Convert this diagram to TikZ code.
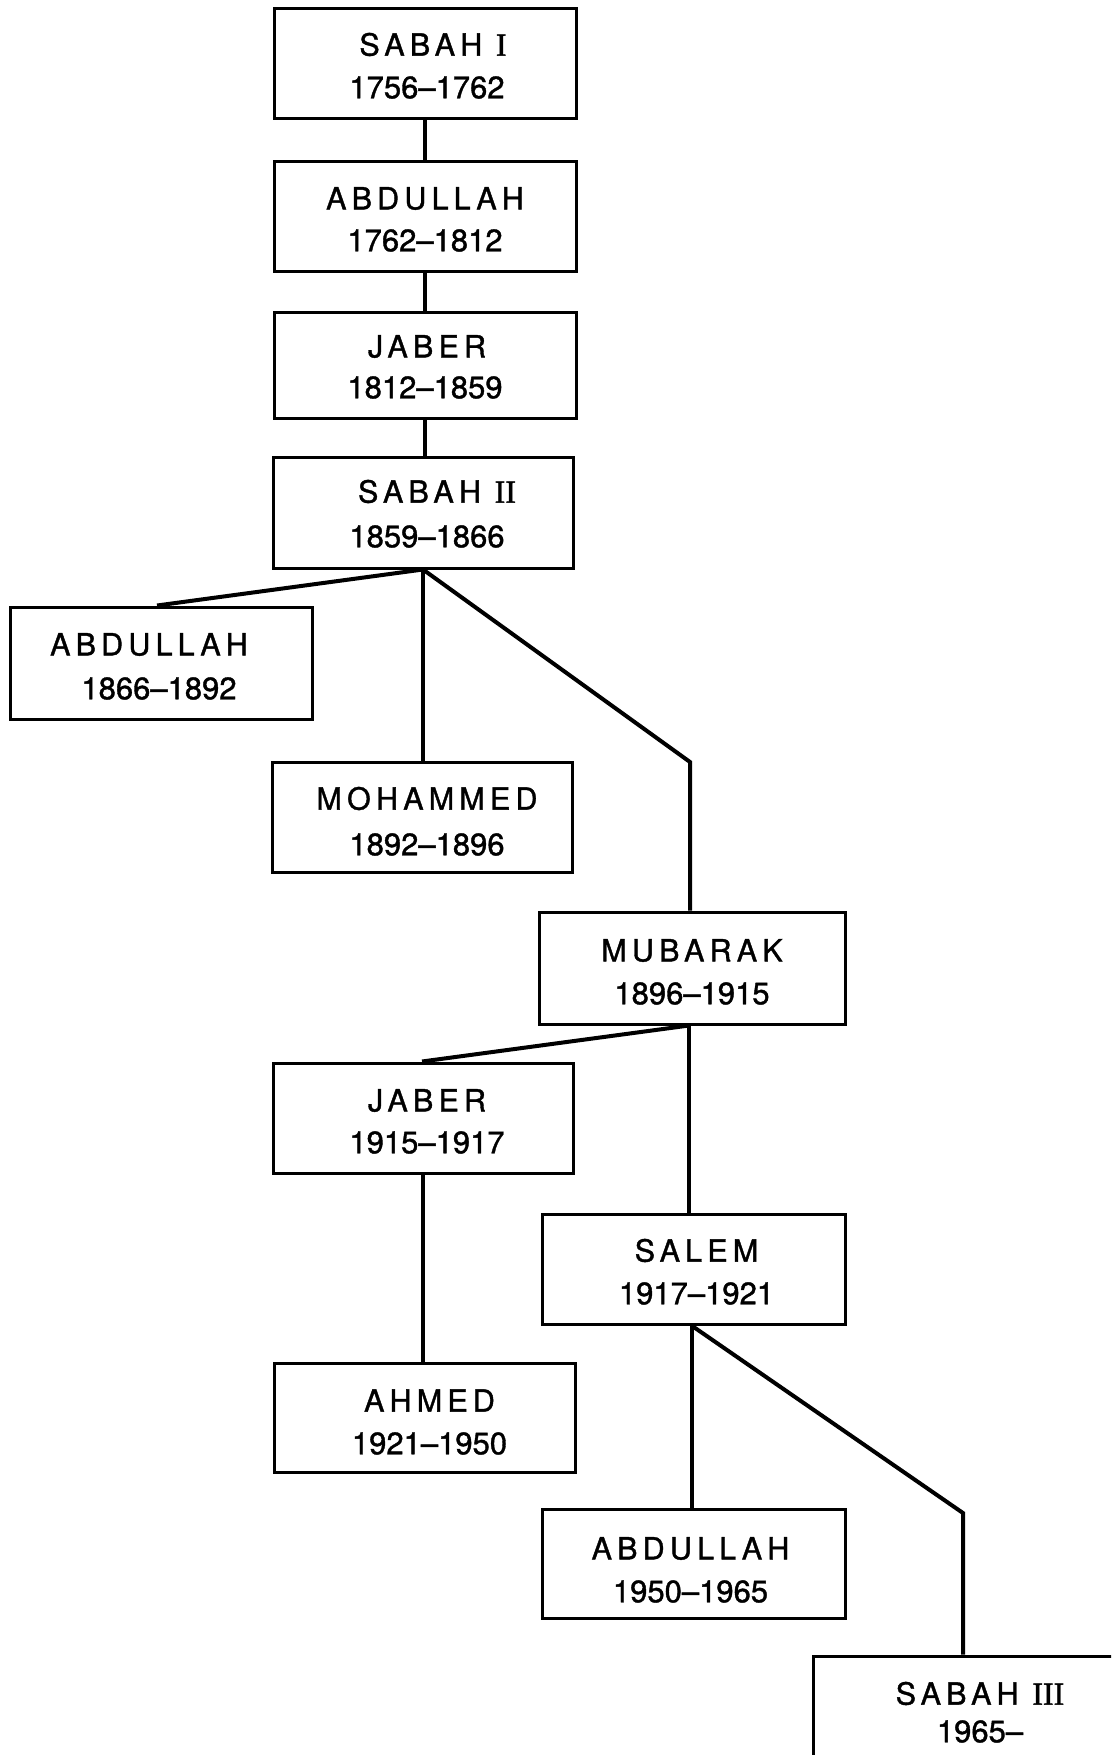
\documentclass[tikz,border=0pt]{standalone}
\usepackage{fontspec}
\setmainfont{TeX Gyre Heros}
\newfontfamily\namefont[LetterSpace=17,FakeBold=1.2]{TeX Gyre Heros}
\newfontfamily\datefont[LetterSpace=0,FakeBold=1.2]{TeX Gyre Heros}
\newfontfamily\numfont[FakeBold=1.2]{Liberation Serif}
\begin{document}
\begin{tikzpicture}[x=1pt,y=-1pt,
  box/.style={draw=black, line width=3pt, rectangle, minimum width=302pt, minimum height=110pt, inner sep=0pt},
  nm/.style={font={\namefont\fontsize{30.5}{32}\selectfont}, inner sep=0pt, anchor=center},
  dt/.style={font={\datefont\fontsize{31}{32}\selectfont}, inner sep=0pt, anchor=center},
  conn/.style={line width=4pt, line join=miter, line cap=butt}]
\fill[white] (0,0) rectangle (1111,1755);
\path[use as bounding box] (0,0) rectangle (1111,1755);
\clip (0,0) rectangle (1111,1755);

% boxes
\node[box, minimum width=302pt, minimum height=110pt] (s1) at (425,64) {};
\node[box, minimum width=302pt, minimum height=109pt] (a1) at (425,216.5) {};
\node[box, minimum width=302pt, minimum height=106pt] (j1) at (425,365) {};
\node[box, minimum width=300pt, minimum height=111pt] (s2) at (423,512.5) {};
\node[box, minimum width=302pt, minimum height=112pt] (a2) at (161,663) {};
\node[box, minimum width=300pt, minimum height=110pt] (m) at (422,817) {};
\node[box, minimum width=306pt, minimum height=112pt] (mu) at (692,968) {};
\node[box, minimum width=300pt, minimum height=110pt] (j2) at (423,1118) {};
\node[box, minimum width=303pt, minimum height=110pt] (sa) at (693.5,1269) {};
\node[box, minimum width=301pt, minimum height=109pt] (ah) at (424.5,1417.5) {};
\node[box, minimum width=303pt, minimum height=109pt] (a3) at (693.5,1563.5) {};
\node[box, minimum width=334pt, minimum height=110pt] (s3) at (980,1711) {};

% texts
\node[nm] (s1n) at ([xshift=8pt,yshift=-37pt]s1.north) {SABAH {\numfont\fontsize{32}{32}\selectfont I}};
\node[dt] (s1d) at ([xshift=2pt,yshift=-80pt]s1.north) {1756–1762};
\node[nm] (a1n) at ([xshift=0pt,yshift=-38pt]a1.north) {ABDULLAH};
\node[dt] (a1d) at ([xshift=0pt,yshift=-80pt]a1.north) {1762–1812};
\node[nm] (j1n) at ([xshift=2pt,yshift=-36pt]j1.north) {JABER};
\node[dt] (j1d) at ([xshift=0pt,yshift=-77pt]j1.north) {1812–1859};
\node[nm] (s2n) at ([xshift=14pt,yshift=-36pt]s2.north) {SABAH {\numfont\fontsize{32}{32}\selectfont II}};
\node[dt] (s2d) at ([xshift=4pt,yshift=-81pt]s2.north) {1859–1866};
\node[nm] (a2n) at ([xshift=-12pt,yshift=-39pt]a2.north) {ABDULLAH};
\node[dt] (a2d) at ([xshift=-2pt,yshift=-83pt]a2.north) {1866–1892};
\node[nm] (mn) at ([xshift=5pt,yshift=-38pt]m.north) {MOHAMMED};
\node[dt] (md) at ([xshift=5pt,yshift=-84pt]m.north) {1892–1896};
\node[nm] (mun) at ([xshift=0pt,yshift=-40pt]mu.north) {MUBARAK};
\node[dt] (mud) at ([xshift=0pt,yshift=-83pt]mu.north) {1896–1915};
\node[nm] (j2n) at ([xshift=4pt,yshift=-39pt]j2.north) {JABER};
\node[dt] (j2d) at ([xshift=4pt,yshift=-81pt]j2.north) {1915–1917};
\node[nm] (san) at ([xshift=3pt,yshift=-38pt]sa.north) {SALEM};
\node[dt] (sad) at ([xshift=3pt,yshift=-81pt]sa.north) {1917–1921};
\node[nm] (ahn) at ([xshift=5pt,yshift=-39pt]ah.north) {AHMED};
\node[dt] (ahd) at ([xshift=5pt,yshift=-82pt]ah.north) {1921–1950};
\node[nm] (a3n) at ([xshift=-3pt,yshift=-41pt]a3.north) {ABDULLAH};
\node[dt] (a3d) at ([xshift=-3pt,yshift=-84pt]a3.north) {1950–1965};
\node[nm] (s3n) at ([xshift=0pt,yshift=-39pt]s3.north) {SABAH {\numfont\fontsize{32}{32}\selectfont III}};
\node[dt] (s3d) at ([xshift=0pt,yshift=-77pt]s3.north) {1965–};

% connectors
\coordinate (c1) at (690,762);
\coordinate (c2) at (963,1513);
\draw[conn] (s1.south) -- (s1.south |- a1.north);
\draw[conn] (a1.south) -- (a1.south |- j1.north);
\draw[conn] (j1.south) -- (j1.south |- s2.north);
\draw[conn] (s2.south) -- ([xshift=-4pt]a2.north);
\draw[conn] (s2.south) -- (s2.south |- m.north);
\draw[conn] (s2.south) -- (c1) -- (c1 |- mu.north);
\draw[conn] ([xshift=-3pt]mu.south) -- ([xshift=-1pt]j2.north);
\draw[conn] ([xshift=-3pt]mu.south) -- ([xshift=-3pt]mu.south |- sa.north);
\draw[conn] (j2.south) -- (j2.south |- ah.north);
\draw[conn] ([xshift=-2pt]sa.south) -- ([xshift=-2pt]sa.south |- a3.north);
\draw[conn] ([xshift=-2pt]sa.south) -- (c2) -- (c2 |- s3.north);
\end{tikzpicture}
\end{document}
